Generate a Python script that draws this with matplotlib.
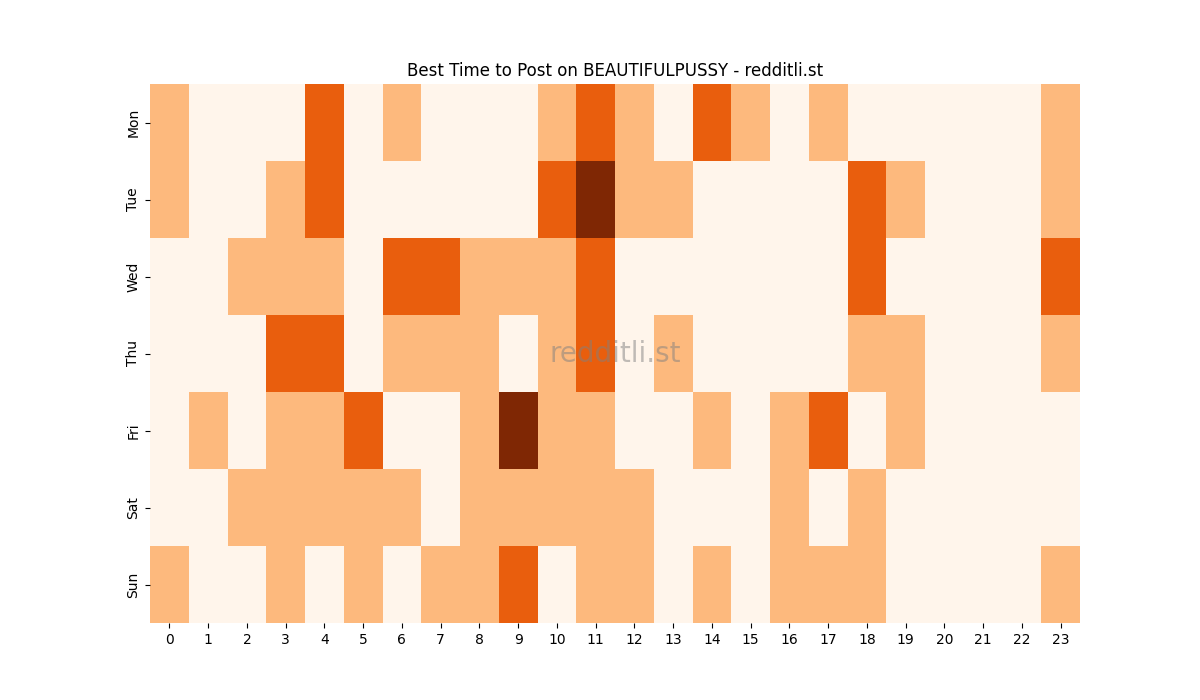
import numpy as np
import matplotlib
matplotlib.use('Agg')
import matplotlib.pyplot as plt
import seaborn as sns

days = ['Mon', 'Tue', 'Wed', 'Thu', 'Fri', 'Sat', 'Sun']
hours = list(range(24))

mon = [1, 0, 0, 0, 2, 0, 1, 0, 0, 0, 1, 2, 1, 0, 2, 1, 0, 1, 0, 0, 0, 0, 0, 1]
tue = [1, 0, 0, 1, 2, 0, 0, 0, 0, 0, 2, 3, 1, 1, 0, 0, 0, 0, 2, 1, 0, 0, 0, 1]
wed = [0, 0, 1, 1, 1, 0, 2, 2, 1, 1, 1, 2, 0, 0, 0, 0, 0, 0, 2, 0, 0, 0, 0, 2]
thu = [0, 0, 0, 2, 2, 0, 1, 1, 1, 0, 1, 2, 0, 1, 0, 0, 0, 0, 1, 1, 0, 0, 0, 1]
fri = [0, 1, 0, 1, 1, 2, 0, 0, 1, 3, 1, 1, 0, 0, 1, 0, 1, 2, 0, 1, 0, 0, 0, 0]
sat = [0, 0, 1, 1, 1, 1, 1, 0, 1, 1, 1, 1, 1, 0, 0, 0, 1, 0, 1, 0, 0, 0, 0, 0]
sun = [1, 0, 0, 1, 0, 1, 0, 1, 1, 2, 0, 1, 1, 0, 1, 0, 1, 1, 1, 0, 0, 0, 0, 1]

grid = np.array([mon, tue, wed, thu, fri, sat, sun])

fig, ax = plt.subplots(figsize=(12, 7), dpi=100)
sns.heatmap(grid, cmap='Oranges', vmin=0, vmax=3, cbar=False,
            xticklabels=hours, yticklabels=days, ax=ax)
plt.setp(ax.get_yticklabels(), rotation=90, va='center')
plt.setp(ax.get_xticklabels(), rotation=0)
ax.set_title('Best Time to Post on BEAUTIFULPUSSY - redditli.st')

ax.text(0.5, 0.5, 'redditli.st', transform=ax.transAxes, fontsize=20,
        color='gray', alpha=0.5, ha='center', va='center')

fig.savefig('out.png', dpi=100)
